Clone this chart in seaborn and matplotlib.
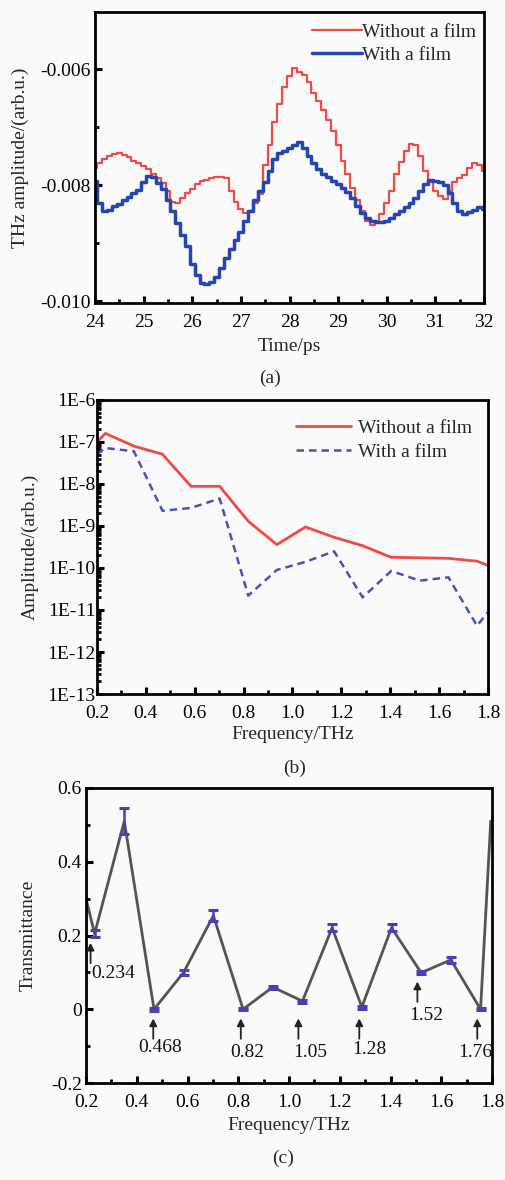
import numpy as np
import pandas as pd
import matplotlib
matplotlib.use("Agg")
import matplotlib.pyplot as plt
import seaborn as sns
from matplotlib.ticker import MultipleLocator, FixedLocator, LogLocator, NullFormatter, FuncFormatter

# ---------------- data ----------------
# (a) time-domain THz waveforms, amplitudes in units of 1e-3 arb.u.
time_ps = [round(24.0 + 0.1 * i, 1) for i in range(81)]
amp_without = [
    -7.70, -7.62, -7.55, -7.50, -7.46, -7.44, -7.47, -7.52, -7.58, -7.62,
    -7.66, -7.72, -7.80, -7.88, -7.96, -8.10, -8.28, -8.30, -8.22, -8.14,
    -8.06, -7.98, -7.93, -7.90, -7.88, -7.86, -7.86, -7.88, -8.10, -8.28,
    -8.40, -8.48, -8.44, -8.30, -8.15, -7.65, -7.30, -6.90, -6.60, -6.30,
    -6.12, -5.98, -6.04, -6.10, -6.22, -6.40, -6.55, -6.70, -6.88, -7.06,
    -7.30, -7.58, -7.80, -8.04, -8.25, -8.45, -8.62, -8.68, -8.62, -8.50,
    -8.30, -8.10, -7.80, -7.60, -7.40, -7.28, -7.30, -7.50, -7.75, -7.95,
    -8.10, -8.18, -8.24, -8.10, -7.95, -7.88, -7.82, -7.70, -7.62, -7.65,
    -7.75,
]
amp_with = [
    -7.92, -8.30, -8.44, -8.42, -8.36, -8.32, -8.26, -8.20, -8.14, -8.08,
    -7.95, -7.84, -7.86, -7.96, -8.06, -8.25, -8.45, -8.65, -8.85, -9.05,
    -9.35, -9.55, -9.68, -9.70, -9.66, -9.58, -9.42, -9.25, -9.10, -8.95,
    -8.80, -8.62, -8.45, -8.25, -8.10, -7.95, -7.75, -7.55, -7.45, -7.40,
    -7.36, -7.30, -7.25, -7.35, -7.50, -7.62, -7.72, -7.80, -7.86, -7.92,
    -7.98, -8.05, -8.12, -8.22, -8.36, -8.48, -8.56, -8.62, -8.64, -8.64,
    -8.62, -8.56, -8.50, -8.44, -8.38, -8.30, -8.22, -8.10, -7.98, -7.90,
    -7.92, -7.95, -8.00, -8.14, -8.30, -8.44, -8.50, -8.46, -8.42, -8.38,
    -8.40,
]

# (b) amplitude spectra
freq_spec = [0.2, 0.234, 0.351, 0.468, 0.585, 0.702, 0.819, 0.936,
             1.053, 1.170, 1.287, 1.404, 1.521, 1.638, 1.755, 1.8]
spec_without = [1.0e-7, 1.6e-7, 8.0e-8, 5.1e-8, 8.8e-9, 8.8e-9, 1.3e-9, 3.6e-10,
                9.5e-10, 5.4e-10, 3.4e-10, 1.8e-10, 1.75e-10, 1.7e-10, 1.45e-10, 1.15e-10]
spec_with = [5.1e-8, 7.2e-8, 6.0e-8, 2.3e-9, 2.7e-9, 4.5e-9, 2.2e-11, 9.0e-11,
             1.4e-10, 2.5e-10, 2.0e-11, 8.5e-11, 5.0e-11, 6.0e-11, 4.2e-12, 9.0e-12]
spec_ticks = [1e-6, 1e-7, 1e-8, 1e-9, 1e-10, 1e-11, 1e-12, 1e-13]
spec_tick_labels = ["1E-6", "1E-7", "1E-8", "1E-9", "1E-10", "1E-11", "1E-12", "1E-13"]

# (c) transmittance
freq_tr = [0.2, 0.234, 0.351, 0.468, 0.585, 0.702, 0.819, 0.936,
           1.053, 1.170, 1.287, 1.404, 1.521, 1.638, 1.755, 1.795]
trans = [0.30, 0.205, 0.51, 0.0, 0.10, 0.254, 0.0, 0.06,
         0.022, 0.221, 0.006, 0.221, 0.099, 0.134, 0.0, 0.51]
# error bars (measured points only)
err_freq = [0.234, 0.351, 0.468, 0.585, 0.702, 0.819, 0.936,
            1.053, 1.170, 1.287, 1.404, 1.521, 1.638, 1.755]
err_val = [0.205, 0.51, 0.0, 0.10, 0.254, 0.0, 0.06,
           0.022, 0.221, 0.006, 0.221, 0.099, 0.134, 0.0]
err_size = [0.01, 0.035, 0.004, 0.006, 0.014, 0.003, 0.004,
            0.004, 0.01, 0.004, 0.01, 0.004, 0.008, 0.003]

# resonance markers
res_labels = ["0.234", "0.468", "0.82", "1.05", "1.28", "1.52", "1.76"]
res_arrow_x = [0.218, 0.465, 0.81, 1.037, 1.277, 1.506, 1.742]
res_arrow_tail = [0.125, -0.08, -0.08, -0.08, -0.08, 0.02, -0.08]
res_arrow_head = [0.18, -0.025, -0.025, -0.025, -0.025, 0.075, -0.025]
res_text_x = [0.222, 0.405, 0.767, 1.016, 1.248, 1.473, 1.666]
res_text_y = [0.097, -0.103, -0.116, -0.116, -0.108, -0.016, -0.118]

# ---------------- style ----------------
sns.set_theme(style="ticks")
plt.rcParams["font.family"] = ["Liberation Serif", "DejaVu Serif"]
BG = "#fafafa"
FS = 14
RED = "#f04a48"
BLUE_A = "#2546b0"
BLUE_B = "#4d4fc0"
GREY = "#5a5252"
ERR_BLUE = "#4a3fb8"

W, H = 506, 1180
fig = plt.figure(figsize=(W / 100, H / 100), dpi=100, facecolor=BG)


def px_axes(left, top, right, bottom):
    return fig.add_axes([left / W, 1 - bottom / H, (right - left) / W, (bottom - top) / H])


def style_axes(ax):
    ax.set_facecolor(BG)
    for s in ax.spines.values():
        s.set_linewidth(2.0)
        s.set_color("black")
    ax.tick_params(which="major", direction="in", length=5, width=2.2,
                   labelsize=FS, colors="black", pad=3)
    ax.tick_params(axis="x", which="major", pad=8)
    ax.tick_params(which="minor", direction="in", length=3, width=2.0, colors="black")
    ax.tick_params(top=False, right=False, which="both")


# ---------------- (a) ----------------
ax1 = px_axes(95, 12, 484, 303)
df_a = pd.DataFrame({"t": time_ps,
                     "Without a film": np.array(amp_without) * 1e-3,
                     "With a film": np.array(amp_with) * 1e-3})
sns.lineplot(data=df_a, x="t", y="Without a film", ax=ax1, color=RED, lw=1.6,
             drawstyle="steps-mid", label="Without a film")
sns.lineplot(data=df_a, x="t", y="With a film", ax=ax1, color=BLUE_A, lw=2.5,
             drawstyle="steps-mid", label="With a film")
ax1.set_xlim(24, 32)
ax1.set_ylim(-0.01003, -0.00501)
ax1.xaxis.set_major_locator(MultipleLocator(1))
ax1.xaxis.set_minor_locator(MultipleLocator(0.5))
ax1.yaxis.set_major_locator(FixedLocator([-0.010, -0.008, -0.006]))
ax1.yaxis.set_minor_locator(FixedLocator([-0.009, -0.007]))
ax1.yaxis.set_major_formatter(FuncFormatter(lambda v, p: f"{v:.3f}"))
style_axes(ax1)
ax1.set_xlabel("Time/ps", fontsize=FS, labelpad=5)
ax1.set_ylabel("THz amplitude/(arb.u.)", fontsize=FS, labelpad=8)
ax1.legend(loc="upper right", bbox_to_anchor=(1.01, 1.0), frameon=False,
           fontsize=FS, handlelength=2.6, handletextpad=0.0,
           borderaxespad=0.2, labelspacing=0.25)
fig.text(270 / W, 1 - 378 / H, "(a)", ha="center", va="center", fontsize=FS)

# ---------------- (b) ----------------
ax2 = px_axes(97, 400, 488, 694)
df_b = pd.DataFrame({"f": freq_spec, "without": spec_without, "with": spec_with})
sns.lineplot(data=df_b, x="f", y="without", ax=ax2, color=RED, lw=2.0,
             label="Without a film")
sns.lineplot(data=df_b, x="f", y="with", ax=ax2, color=BLUE_B, lw=1.8,
             dashes=False, linestyle=(0, (3, 2)), label="With a film")
ax2.set_yscale("log")
ax2.set_xlim(0.2, 1.8)
ax2.set_ylim(1e-13, 1e-6)
ax2.xaxis.set_major_locator(MultipleLocator(0.2))
ax2.xaxis.set_minor_locator(MultipleLocator(0.1))
ax2.xaxis.set_major_formatter(FuncFormatter(lambda v, p: f"{v:.1f}"))
ax2.yaxis.set_major_locator(FixedLocator(spec_ticks))
ax2.yaxis.set_major_formatter(FuncFormatter(
    lambda v, p: spec_tick_labels[int(np.argmin([abs(np.log10(s) - np.log10(v)) for s in spec_ticks]))]))
ax2.yaxis.set_minor_locator(LogLocator(base=10, subs=np.arange(2, 10), numticks=20))
ax2.yaxis.set_minor_formatter(NullFormatter())
style_axes(ax2)
ax2.tick_params(axis="y", which="major", pad=1)
ax2.set_xlabel("Frequency/THz", fontsize=FS, labelpad=3)
ax2.set_ylabel("Amplitude/(arb.u.)", fontsize=FS, labelpad=6)
ax2.legend(loc="upper right", bbox_to_anchor=(0.99, 0.975), frameon=False,
           fontsize=FS, handlelength=2.8, handletextpad=0.4,
           borderaxespad=0.2, labelspacing=0.35)
fig.text(295 / W, 1 - 768 / H, "(b)", ha="center", va="center", fontsize=FS)

# ---------------- (c) ----------------
ax3 = px_axes(86, 788, 492, 1083)
df_c = pd.DataFrame({"f": freq_tr, "T": trans})
sns.lineplot(data=df_c, x="f", y="T", ax=ax3, color=GREY, lw=2.0, zorder=2)
ax3.errorbar(err_freq, err_val, yerr=err_size, fmt="none", ecolor=ERR_BLUE,
             elinewidth=1.8, capsize=3.5, capthick=2.2, zorder=3)
for lab, ax_x, y0, y1, tx, ty in zip(res_labels, res_arrow_x, res_arrow_tail,
                                     res_arrow_head, res_text_x, res_text_y):
    ax3.annotate("", xy=(ax_x, y1), xytext=(ax_x, y0),
                 arrowprops=dict(arrowstyle="-|>,head_length=0.35,head_width=0.18",
                                 color="#222222", lw=1.3, shrinkA=0, shrinkB=0))
    ax3.text(tx, ty, lab, ha="left", va="center", fontsize=FS, color="#111111")
ax3.set_xlim(0.2, 1.8)
ax3.set_ylim(-0.2, 0.6)
ax3.xaxis.set_major_locator(MultipleLocator(0.2))
ax3.xaxis.set_minor_locator(MultipleLocator(0.1))
ax3.xaxis.set_major_formatter(FuncFormatter(lambda v, p: f"{v:.1f}"))
ax3.yaxis.set_major_locator(MultipleLocator(0.2))
ax3.yaxis.set_minor_locator(MultipleLocator(0.1))
ax3.yaxis.set_major_formatter(FuncFormatter(lambda v, p: "0" if abs(v) < 1e-9 else f"{v:.1f}"))
style_axes(ax3)
ax3.set_xlabel("Frequency/THz", fontsize=FS, labelpad=4)
ax3.set_ylabel("Transmittance", fontsize=FS, labelpad=10)
fig.text(283 / W, 1 - 1158 / H, "(c)", ha="center", va="center", fontsize=FS)

fig.savefig("out.png", dpi=100, facecolor=BG)
